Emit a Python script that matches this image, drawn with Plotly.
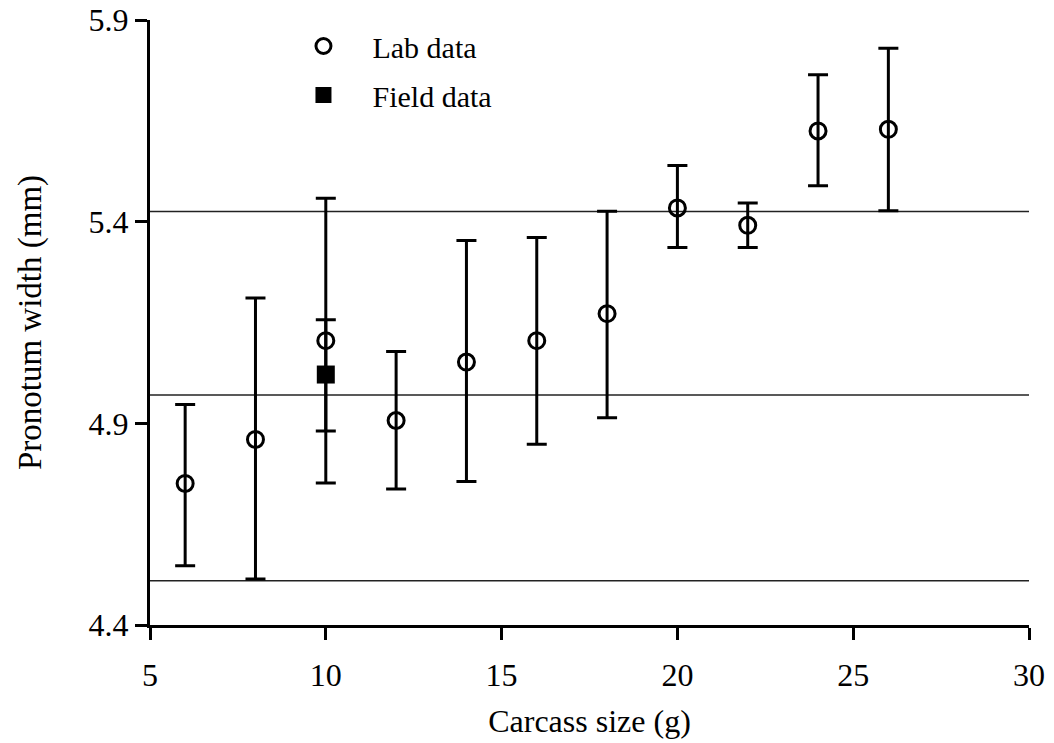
import plotly.graph_objects as go

# Lab data
lab_x = [6, 8, 10, 12, 14, 16, 18, 20, 22, 24, 26]
lab_mean = [4.751, 4.860, 5.105, 4.907, 5.052, 5.105, 5.172, 5.434, 5.391, 5.625, 5.629]
lab_upper = [4.947, 5.211, 5.458, 5.078, 5.353, 5.361, 5.426, 5.539, 5.446, 5.764, 5.830]
lab_lower = [4.547, 4.514, 4.752, 4.737, 4.756, 4.848, 4.914, 5.336, 5.336, 5.489, 5.427]

# Field data
field_x = [10]
field_mean = [5.021]
field_upper = [5.157]
field_lower = [4.881]

# Horizontal reference levels
ref_levels = [4.510, 4.970, 5.425]

x_ticks = [5, 10, 15, 20, 25, 30]
y_ticks = [4.4, 4.9, 5.4, 5.9]

FONT = "Liberation Serif"

fig = go.Figure()

for lvl in ref_levels:
    fig.add_hline(y=lvl, line=dict(color="#222222", width=1.5), layer="below")

fig.add_trace(go.Scatter(
    x=lab_x, y=lab_mean, mode="markers", showlegend=False,
    marker=dict(symbol="circle-open", size=16, color="black", line=dict(width=3, color="black")),
    error_y=dict(type="data", symmetric=False,
                 array=[u - m for u, m in zip(lab_upper, lab_mean)],
                 arrayminus=[m - l for m, l in zip(lab_mean, lab_lower)],
                 color="black", thickness=3, width=10),
))

fig.add_trace(go.Scatter(
    x=field_x, y=field_mean, mode="markers", showlegend=False,
    marker=dict(symbol="square", size=18, color="black"),
    error_y=dict(type="data", symmetric=False,
                 array=[u - m for u, m in zip(field_upper, field_mean)],
                 arrayminus=[m - l for m, l in zip(field_mean, field_lower)],
                 color="black", thickness=3, width=10),
))

# legend entries
fig.add_trace(go.Scatter(
    x=[None], y=[None], mode="markers", name="Lab data", legendgroup="a",
    marker=dict(symbol="circle-open", size=15, color="black", line=dict(width=3, color="black")),
))
fig.add_trace(go.Scatter(
    x=[None], y=[None], mode="markers", name="Field data", legendgroup="b",
    marker=dict(symbol="square", size=18, color="black"),
))

fig.update_layout(
    width=1054, height=743,
    margin=dict(l=150, r=25, t=20, b=118),
    paper_bgcolor="white", plot_bgcolor="white",
    font=dict(family=FONT, size=32, color="black"),
    showlegend=True,
    legend=dict(x=0.1416, y=1.0, xanchor="left", yanchor="top",
                bgcolor="rgba(0,0,0,0)", font=dict(size=30, family=FONT),
                tracegroupgap=7, traceorder="grouped", itemwidth=88),
    xaxis=dict(range=[5, 30], tickvals=x_ticks, ticktext=[str(v) for v in x_ticks],
               automargin=False,
               showgrid=False, zeroline=False, showline=True, linecolor="black", linewidth=3,
               ticks="outside", ticklen=12, tickwidth=3, tickcolor="black",
               ticklabelstandoff=8,
               title=dict(text="Carcass size (g)", font=dict(size=32, family=FONT), standoff=18)),
    yaxis=dict(range=[4.4, 5.9], tickvals=y_ticks, ticktext=[f"{v:.1f}" for v in y_ticks],
               automargin=False,
               showgrid=False, zeroline=False, showline=True, linecolor="black", linewidth=3,
               ticks="outside", ticklen=12, tickwidth=3, tickcolor="black",
               ticklabelstandoff=0,
               title=dict(text="Pronotum width (mm)", font=dict(size=33, family=FONT), standoff=38)),
)

fig.write_html("out.html")
